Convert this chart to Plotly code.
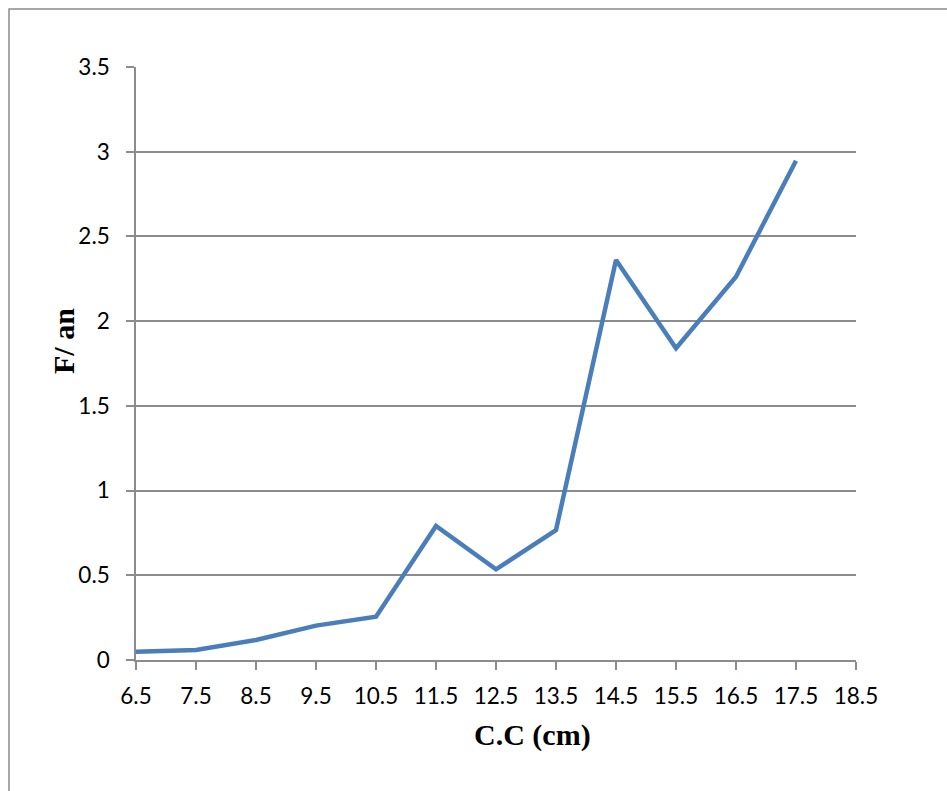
import plotly.graph_objects as go

cc_cm = [6.5, 7.5, 8.5, 9.5, 10.5, 11.5, 12.5, 13.5, 14.5, 15.5, 16.5, 17.5]
f_an = [0.049, 0.059, 0.118, 0.203, 0.256, 0.791, 0.535, 0.767, 2.361, 1.840, 2.262, 2.947]
x_ticks = [6.5, 7.5, 8.5, 9.5, 10.5, 11.5, 12.5, 13.5, 14.5, 15.5, 16.5, 17.5, 18.5]
y_ticks = [0, 0.5, 1, 1.5, 2, 2.5, 3, 3.5]
y_labels = ["0", "0.5", "1", "1.5", "2", "2.5", "3", "3.5"]

W, H = 947, 791
L, R, T, B = 136, 91, 67, 131
pw, ph = W - L - R, H - T - B

def px(xp):
    return (xp - L) / pw

def py(yp):
    return (H - B - yp) / ph

fig = go.Figure()
fig.add_trace(go.Scatter(
    x=cc_cm, y=f_an, mode="lines",
    line=dict(color="#4A7EBB", width=4.5),
    showlegend=False, hoverinfo="x+y",
))

grey = "#8c8c8c"
tickfont = dict(family="Lato, Carlito, Calibri, sans-serif", size=22.5, color="black")

fig.update_layout(
    width=W, height=H,
    margin=dict(l=L, r=R, t=T, b=B, pad=0),
    paper_bgcolor="white", plot_bgcolor="white",
    xaxis=dict(
        range=[6.5, 18.5], tickmode="array", tickvals=x_ticks,
        ticktext=[str(v) for v in x_ticks],
        showgrid=False, zeroline=False,
        showline=True, linecolor=grey, linewidth=1.5,
        ticks="outside", ticklen=8, tickcolor=grey, tickwidth=1.5,
        tickfont=tickfont, ticklabelstandoff=7,
    ),
    yaxis=dict(
        range=[0, 3.5], tickmode="array", tickvals=y_ticks, ticktext=y_labels,
        showgrid=True, gridcolor=grey, gridwidth=1.5, zeroline=False,
        showline=True, linecolor=grey, linewidth=1.5,
        ticks="outside", ticklen=8, tickcolor=grey, tickwidth=1.5,
        tickfont=tickfont, ticklabelstandoff=12,
    ),
    shapes=[dict(
        type="rect", xref="paper", yref="paper",
        x0=px(9), x1=px(1000), y0=py(850), y1=py(9),
        line=dict(color=grey, width=1.5), fillcolor="rgba(0,0,0,0)",
        layer="below",
    )],
    annotations=[
        dict(text="<b>C.C (cm)</b>", xref="paper", yref="paper",
             x=px(532), y=py(735), showarrow=False,
             xanchor="center", yanchor="middle",
             font=dict(family="Liberation Serif, Times New Roman, serif", size=30, color="black")),
        dict(text="<b>F/ an</b>", xref="paper", yref="paper",
             x=px(63), y=py(341), showarrow=False, textangle=-90,
             xanchor="center", yanchor="middle",
             font=dict(family="Liberation Serif, Times New Roman, serif", size=30, color="black")),
    ],
)

fig.write_html("out.html")
